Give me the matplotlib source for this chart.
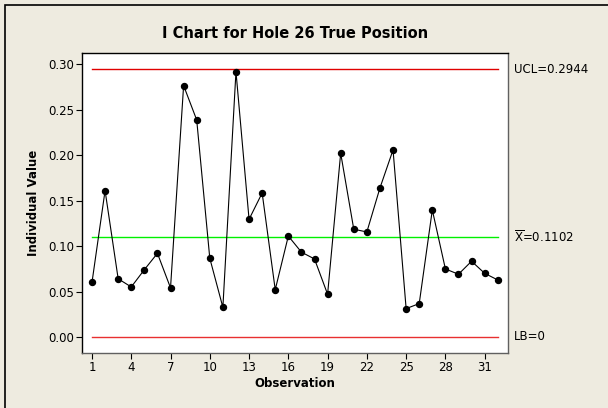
import matplotlib
matplotlib.use("Agg")
import matplotlib.pyplot as plt
from matplotlib.patches import Rectangle

observations = list(range(1, 33))
values = [0.060, 0.161, 0.064, 0.055, 0.074, 0.092, 0.054, 0.2765, 0.2387, 0.0866,
          0.0326, 0.2919, 0.1294, 0.1584, 0.052, 0.111, 0.0933, 0.0858, 0.047, 0.2021,
          0.1185, 0.1155, 0.1639, 0.2057, 0.0312, 0.0367, 0.1397, 0.0748, 0.069, 0.0833,
          0.070, 0.0627]
ucl = 0.2944
center = 0.1102
lb = 0.0
xticks = [1, 4, 7, 10, 13, 16, 19, 22, 25, 28, 31]
yticks = [0.00, 0.05, 0.10, 0.15, 0.20, 0.25, 0.30]

bg = "#EEEBE0"
fig = plt.figure(figsize=(6.08, 4.08), dpi=100, facecolor=bg)
fig.patches.append(Rectangle((5/608, -0.1), 1.2, 1 - 5/408 + 0.1, transform=fig.transFigure,
                             fill=False, edgecolor="black", linewidth=1.2))
ax = fig.add_axes([82.3/608, 1 - 352.7/408, (507.7-82.3)/608, (352.7-53.3)/408])
ax.set_facecolor("white")

ax.plot([1, 32], [ucl, ucl], color="#E00000", lw=1.0)
ax.plot([1, 32], [center, center], color="#00F000", lw=1.0)
ax.plot([1, 32], [lb, lb], color="#E83030", lw=1.0)
ax.plot(observations, values, color="black", lw=0.8, marker="o", markersize=4.3,
        markerfacecolor="black", markeredgecolor="black")

ax.set_xlim(0.26, 32.76)
ax.set_ylim(-0.0173, 0.312)
ax.set_xticks(xticks)
ax.set_yticks(yticks)
ax.set_yticklabels([f"{v:.2f}" for v in yticks])
ax.tick_params(direction="out", length=4, width=0.8, labelsize=8.5, pad=2)

for s in ["left", "top"]:
    ax.spines[s].set_color("black")
for s in ["right", "bottom"]:
    ax.spines[s].set_color("#606060")
for s in ax.spines.values():
    s.set_linewidth(1.0)

ax.set_title("I Chart for Hole 26 True Position", fontsize=10.5, fontweight="bold", pad=11)
ax.set_xlabel("Observation", fontsize=8.5, fontweight="bold", labelpad=2)
ax.set_ylabel("Individual Value", fontsize=8.5, fontweight="bold", labelpad=6)

tr = ax.get_yaxis_transform()
ax.text(1.015, ucl, "UCL=0.2944", transform=tr, va="center", ha="left", fontsize=8.5)
ax.text(1.015, center, r"$\mathregular{\overline{X}}$=0.1102", transform=tr, va="center", ha="left", fontsize=8.5)
ax.text(1.015, lb, "LB=0", transform=tr, va="center", ha="left", fontsize=8.5)

fig.savefig("out.png", dpi=100, facecolor=bg)
